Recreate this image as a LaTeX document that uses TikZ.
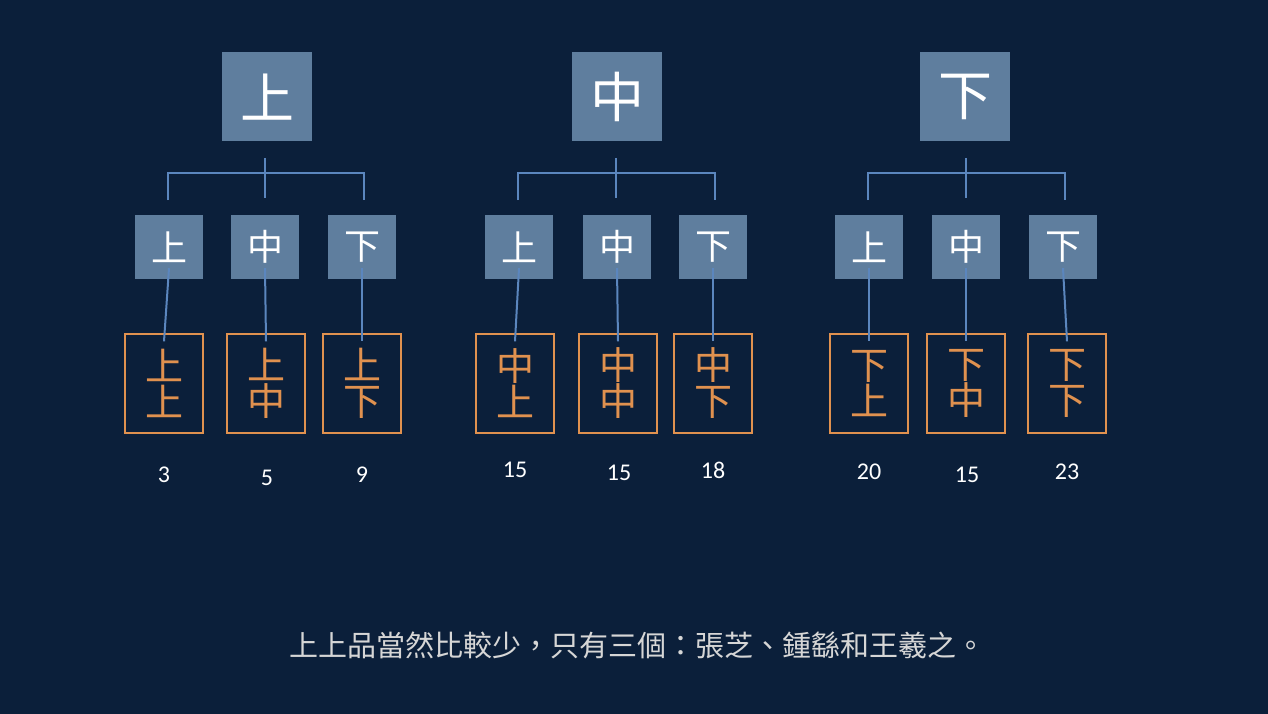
\documentclass[tikz,border=0pt]{standalone}
\usepackage{fontspec}
\newfontfamily\cjk{Noto Sans CJK TC}
\newfontfamily\numf{Carlito}
\definecolor{bg}{HTML}{0B1F3A}
\definecolor{tile}{HTML}{5F7E9E}
\definecolor{ln}{HTML}{5B86BE}
\definecolor{org}{HTML}{E0914F}
\definecolor{cap}{HTML}{D6D6D6}
\begin{document}
\begin{tikzpicture}[x=1pt,y=-1pt,
  big/.style={fill=tile,minimum width=90pt,minimum height=89pt,inner sep=0,text=white,font=\cjk\fontsize{54}{54}\selectfont},
  mid/.style={fill=tile,minimum width=68pt,minimum height=64pt,inner sep=0,text=white,font=\cjk\fontsize{36}{36}\selectfont},
  ob/.style={draw=org,line width=1.2pt,minimum width=78pt,minimum height=99pt,inner sep=0,text=org,font=\cjk\fontsize{38}{40}\selectfont,align=center},
  num/.style={text=white,font=\numf\fontsize{24}{24}\selectfont},
  conn/.style={draw=ln,line width=2pt}]
\fill[bg] (0,0) rectangle (1268,714);
\useasboundingbox (0,0) rectangle (1268,714);
\foreach \g/\c/\bx/\la/\lb/\lc/\oa/\ob/\oc/\na/\nb/\nc/\ny/\ch in {
  a/267/265/169/265/362/164/266/362/3/5/9/475/上,
  b/617/616/519/617/713/515/618/713/15/15/18/470/中,
  c/965/966/869/966/1063/869/966/1067/20/15/23/472/下}{
  \node[big] (\g top) at (\c,97) {\ch};
  \coordinate (\g s1) at (\bx,158);
  \coordinate (\g s2) at (\bx,198);
  \draw[conn] (\g s1) -- (\g s2);
  \node[mid] (\g1) at (\la,247) {上};
  \node[mid] (\g2) at (\lb,247) {中};
  \node[mid] (\g3) at (\lc,247) {下};
  \draw[conn] (\la-1.5,200) |- (\lc+1.5,173) -- (\lc+1.5,200);
  \node[ob] (\g o1) at (\oa,383.5) {\ch\\[-4pt]上};
  \node[ob] (\g o2) at (\ob,383.5) {\ch\\[-4pt]中};
  \node[ob] (\g o3) at (\oc,383.5) {\ch\\[-4pt]下};
  \draw[conn] ([yshift=11pt]\g1.south) -- ([yshift=-8pt]\g o1.north);
  \draw[conn] ([yshift=11pt]\g2.south) -- ([yshift=-8pt]\g o2.north);
  \draw[conn] ([yshift=11pt]\g3.south) -- ([yshift=-8pt]\g o3.north);
  \node[num] (\g n1) at (\oa,\ny) {\na};
  \node[num] (\g n2) at (\ob+1,\ny+3) {\nb};
  \node[num] (\g n3) at (\oc,\ny) {\nc};
}
\node[text=cap,font=\cjk\fontsize{29}{29}\selectfont] (cap) at (637,645) {上上品當然比較少，只有三個：張芝、鍾繇和王羲之。};
\end{tikzpicture}
\end{document}
